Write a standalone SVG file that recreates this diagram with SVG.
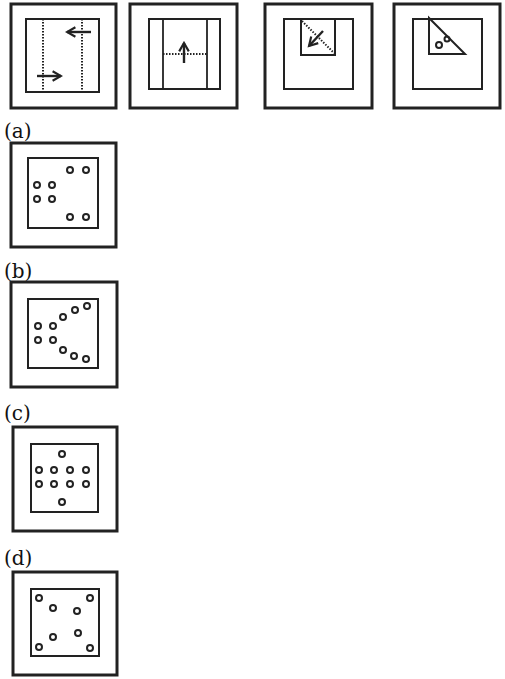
<svg xmlns="http://www.w3.org/2000/svg" width="505" height="679" viewBox="0 0 505 679">
<style>
.o{fill:none;stroke:#222;stroke-width:3}
.i{fill:none;stroke:#222;stroke-width:2}
.l{fill:none;stroke:#222;stroke-width:1.8}
.a{fill:none;stroke:#222;stroke-width:2.4}
.d{fill:none;stroke:#222;stroke-width:2;stroke-dasharray:1.5 1.5}
.c{fill:none;stroke:#222;stroke-width:2}
.t{font-family:"DejaVu Serif","Liberation Serif",serif;font-size:20px;fill:#111}
</style>
<defs>
<marker id="ah" viewBox="0 0 10 10" refX="8" refY="5" markerWidth="5" markerHeight="5" orient="auto" markerUnits="strokeWidth">
<path d="M1,1 L8,5 L1,9" fill="none" stroke="#222" stroke-width="1.8"/>
</marker>
</defs>
<rect width="505" height="679" fill="#fff"/>
<g id="q1">
<rect class="o" x="11" y="4" width="105" height="104"/>
<rect class="i" x="26" y="19" width="73" height="73"/>
<line class="d" x1="43" y1="19" x2="43" y2="92"/>
<line class="d" x1="82" y1="19" x2="82" y2="92"/>
<line class="a" x1="91" y1="32" x2="67" y2="32" marker-end="url(#ah)"/>
<line class="a" x1="37" y1="76" x2="61" y2="76" marker-end="url(#ah)"/>
</g>
<g id="q2">
<rect class="o" x="130" y="4" width="107" height="104"/>
<rect class="i" x="149" y="19" width="71" height="70"/>
<line class="l" x1="163" y1="19" x2="163" y2="89"/>
<line class="l" x1="207" y1="19" x2="207" y2="89"/>
<line class="d" x1="163" y1="54" x2="207" y2="54"/>
<line class="a" x1="184" y1="63" x2="184" y2="43" marker-end="url(#ah)"/>
</g>
<g id="q3">
<rect class="o" x="265" y="4" width="107" height="104"/>
<rect class="i" x="284" y="19" width="69" height="70"/>
<rect class="i" x="301" y="19" width="34" height="36"/>
<line class="d" x1="302" y1="21" x2="334" y2="53"/>
<line class="a" x1="323" y1="31" x2="309" y2="46" marker-end="url(#ah)"/>
</g>
<g id="q4">
<rect class="o" x="394" y="4" width="106" height="104"/>
<rect class="i" x="413" y="19" width="69" height="70"/>
<path class="i" d="M429,18 L429,54 L465,54 Z"/>
<circle class="c" cx="439" cy="45" r="3"/>
<circle class="c" cx="447" cy="39" r="2.5"/>
</g>
<text class="t" x="4" y="138">(a)</text>
<g id="a">
<rect class="o" x="11" y="143" width="105" height="104"/>
<rect class="i" x="28" y="158" width="70" height="70"/>
<g class="c">
<circle cx="70" cy="170" r="3"/><circle cx="86" cy="170" r="3"/>
<circle cx="37" cy="185" r="3"/><circle cx="52" cy="185" r="3"/>
<circle cx="37" cy="199" r="3"/><circle cx="52" cy="199" r="3"/>
<circle cx="70" cy="217" r="3"/><circle cx="86" cy="217" r="3"/>
</g>
</g>
<text class="t" x="4" y="278">(b)</text>
<g id="b">
<rect class="o" x="11" y="282" width="106" height="105"/>
<rect class="i" x="28" y="299" width="70" height="69"/>
<g class="c">
<circle cx="38" cy="326" r="3"/><circle cx="53" cy="326" r="3"/>
<circle cx="38" cy="340" r="3"/><circle cx="53" cy="340" r="3"/>
<circle cx="63" cy="317" r="3"/><circle cx="75" cy="310" r="3"/><circle cx="87" cy="306" r="3"/>
<circle cx="63" cy="350" r="3"/><circle cx="74" cy="356" r="3"/><circle cx="86" cy="359" r="3"/>
</g>
</g>
<text class="t" x="4" y="420">(c)</text>
<g id="c">
<rect class="o" x="13" y="427" width="104" height="104"/>
<rect class="i" x="31" y="444" width="67" height="68"/>
<g class="c">
<circle cx="62" cy="454" r="3"/>
<circle cx="39" cy="470" r="3"/><circle cx="54" cy="470" r="3"/><circle cx="70" cy="470" r="3"/><circle cx="86" cy="470" r="3"/>
<circle cx="39" cy="484" r="3"/><circle cx="54" cy="484" r="3"/><circle cx="70" cy="484" r="3"/><circle cx="86" cy="484" r="3"/>
<circle cx="62" cy="502" r="3"/>
</g>
</g>
<text class="t" x="4" y="565">(d)</text>
<g id="d">
<rect class="o" x="13" y="572" width="104" height="103"/>
<rect class="i" x="31" y="589" width="68" height="67"/>
<g class="c">
<circle cx="39" cy="598" r="3"/><circle cx="90" cy="598" r="3"/>
<circle cx="53" cy="608" r="3"/><circle cx="77" cy="611" r="3"/>
<circle cx="53" cy="637" r="3"/><circle cx="78" cy="633" r="3"/>
<circle cx="39" cy="647" r="3"/><circle cx="90" cy="648" r="3"/>
</g>
</g>
</svg>
